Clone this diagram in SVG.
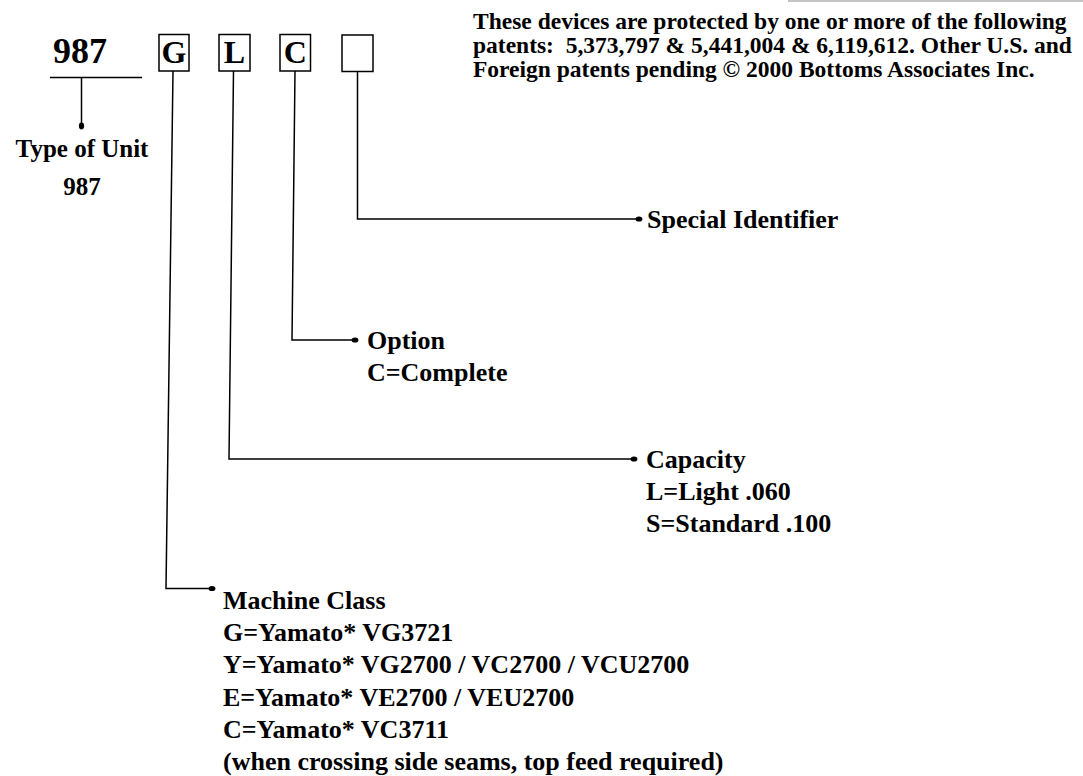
<svg xmlns="http://www.w3.org/2000/svg" width="1083" height="776" viewBox="0 0 1083 776">
  <style>
    .t { font-family: "Liberation Serif", "Times New Roman", serif; font-weight: bold; font-size: 26px; fill: #000; }
    .p { font-family: "Liberation Serif", "Times New Roman", serif; font-weight: bold; font-size: 23.5px; fill: #000; }
    .conn { fill: none; stroke: #000; stroke-width: 1.5; }
    .box { fill: #fff; stroke: #000; stroke-width: 1.5; }
  </style>
  <defs>
    <marker id="dot" viewBox="-5 -5 10 10" refX="0" refY="0" markerWidth="10" markerHeight="10" markerUnits="userSpaceOnUse" orient="auto">
      <ellipse cx="0" cy="0" rx="3.4" ry="2.6" fill="#000"/>
    </marker>
  </defs>
  <rect x="0" y="0" width="1083" height="776" fill="#fff"/>
  <line x1="788" y1="1" x2="1083" y2="1" stroke="#c4c4c4" stroke-width="2"/>

  <g id="patent-note">
    <text class="p" x="473" y="29">These devices are protected by one or more of the following</text>
    <text class="p" x="473" y="53" xml:space="preserve">patents:  5,373,797 &amp; 5,441,004 &amp; 6,119,612. Other U.S. and</text>
    <text class="p" x="473" y="77">Foreign patents pending © 2000 Bottoms Associates Inc.</text>
  </g>

  <g id="unit-code">
    <text class="t" x="107" y="63" text-anchor="end" style="font-size:36px">987</text>
    <line x1="50" y1="77.5" x2="142" y2="77.5" stroke="#000" stroke-width="1.5"/>
  </g>
  <g id="box-g">
    <rect class="box" x="159" y="34.5" width="30" height="36.5"/>
    <text class="t" x="174" y="63" text-anchor="middle" style="font-size:32px">G</text>
  </g>
  <g id="box-l">
    <rect class="box" x="219" y="34.5" width="31" height="36.5"/>
    <text class="t" x="234.5" y="63" text-anchor="middle" style="font-size:32px">L</text>
  </g>
  <g id="box-c">
    <rect class="box" x="280" y="34.5" width="30.5" height="36.5"/>
    <text class="t" x="295.2" y="63" text-anchor="middle" style="font-size:32px">C</text>
  </g>
  <g id="box-blank">
    <rect class="box" x="342" y="35" width="31" height="36.5"/>
  </g>

  <g id="connectors">
    <path class="conn" d="M81.5 78 V126" marker-end="url(#dot)"/>
    <path class="conn" d="M357.5 71.5 V219 H639" marker-end="url(#dot)"/>
    <path class="conn" d="M295 71 L292 340 H355" marker-end="url(#dot)"/>
    <path class="conn" d="M233.5 71 L229 459 H634" marker-end="url(#dot)"/>
    <path class="conn" d="M173 71 L166 588.5 H212" marker-end="url(#dot)"/>
  </g>

  <g id="label-type">
    <text class="t" x="82" y="157" text-anchor="middle" style="font-size:25px">Type of Unit</text>
    <text class="t" x="82" y="195" text-anchor="middle" style="font-size:25px">987</text>
  </g>
  <g id="label-special">
    <text class="t" x="647" y="228">Special Identifier</text>
  </g>
  <g id="label-option">
    <text class="t" x="367" y="349">Option</text>
    <text class="t" x="367" y="381">C=Complete</text>
  </g>
  <g id="label-capacity">
    <text class="t" x="646" y="468">Capacity</text>
    <text class="t" x="646" y="500">L=Light .060</text>
    <text class="t" x="646" y="532">S=Standard .100</text>
  </g>
  <g id="label-machine">
    <text class="t" x="223" y="609">Machine Class</text>
    <text class="t" x="223" y="641">G=Yamato* VG3721</text>
    <text class="t" x="223" y="673">Y=Yamato* VG2700 / VC2700 / VCU2700</text>
    <text class="t" x="223" y="705.5">E=Yamato* VE2700 / VEU2700</text>
    <text class="t" x="223" y="737.5">C=Yamato* VC3711</text>
    <text class="t" x="223" y="769.5">(when crossing side seams, top feed required)</text>
  </g>
</svg>
